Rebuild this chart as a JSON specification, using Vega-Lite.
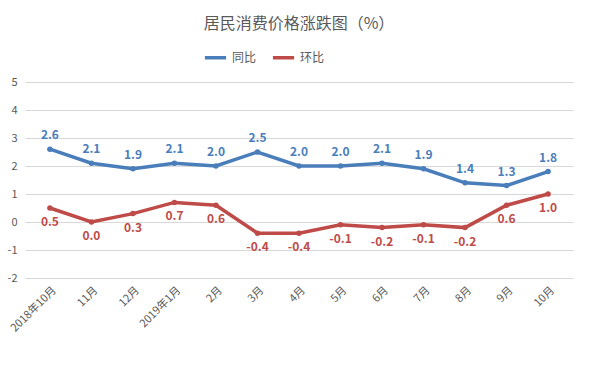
{
  "$schema": "https://vega.github.io/schema/vega-lite/v6.json",
  "width": 548,
  "height": 196,
  "autosize": {"type": "none"},
  "padding": {"left": 25, "top": 82, "right": 31, "bottom": 88},
  "background": "white",
  "title": {
    "text": "居民消费价格涨跌图（%）",
    "font": "Noto Sans CJK SC",
    "fontSize": 16,
    "fontWeight": "normal",
    "color": "#595959",
    "anchor": "middle",
    "offset": 13
  },
  "config": {
    "view": {"stroke": null},
    "font": "Noto Sans CJK SC"
  },
  "data": {
    "values": [
      {"month": "2018年10月", "series": "同比", "value": 2.6},
      {"month": "11月", "series": "同比", "value": 2.1},
      {"month": "12月", "series": "同比", "value": 1.9},
      {"month": "2019年1月", "series": "同比", "value": 2.1},
      {"month": "2月", "series": "同比", "value": 2.0},
      {"month": "3月", "series": "同比", "value": 2.5},
      {"month": "4月", "series": "同比", "value": 2.0},
      {"month": "5月", "series": "同比", "value": 2.0},
      {"month": "6月", "series": "同比", "value": 2.1},
      {"month": "7月", "series": "同比", "value": 1.9},
      {"month": "8月", "series": "同比", "value": 1.4},
      {"month": "9月", "series": "同比", "value": 1.3},
      {"month": "10月", "series": "同比", "value": 1.8},
      {"month": "2018年10月", "series": "环比", "value": 0.5},
      {"month": "11月", "series": "环比", "value": 0.0},
      {"month": "12月", "series": "环比", "value": 0.3},
      {"month": "2019年1月", "series": "环比", "value": 0.7},
      {"month": "2月", "series": "环比", "value": 0.6},
      {"month": "3月", "series": "环比", "value": -0.4},
      {"month": "4月", "series": "环比", "value": -0.4},
      {"month": "5月", "series": "环比", "value": -0.1},
      {"month": "6月", "series": "环比", "value": -0.2},
      {"month": "7月", "series": "环比", "value": -0.1},
      {"month": "8月", "series": "环比", "value": -0.2},
      {"month": "9月", "series": "环比", "value": 0.6},
      {"month": "10月", "series": "环比", "value": 1.0}
    ]
  },
  "encoding": {
    "x": {
      "field": "month",
      "type": "nominal",
      "sort": null,
      "scale": {"type": "point", "padding": 0.6},
      "axis": {
        "title": null,
        "labelAngle": -45,
        "labelFontSize": 11,
        "labelColor": "#595959",
        "domain": false,
        "ticks": false,
        "grid": false,
        "labelPadding": 6
      }
    },
    "y": {
      "field": "value",
      "type": "quantitative",
      "scale": {"domain": [-2, 5], "nice": false},
      "axis": {
        "title": null,
        "values": [-2, -1, 0, 1, 2, 3, 4, 5],
        "labelExpr": "replace(datum.label, '−', '-')",
        "labelFontSize": 11,
        "labelColor": "#595959",
        "domain": false,
        "ticks": false,
        "gridColor": "#D9D9D9",
        "labelPadding": 8
      }
    },
    "color": {
      "field": "series",
      "type": "nominal",
      "scale": {"domain": ["同比", "环比"], "range": ["#4A7EBB", "#BE4B48"]},
      "legend": {
        "title": null,
        "orient": "none",
        "direction": "horizontal",
        "legendX": 178,
        "legendY": -37,
        "symbolType": "stroke",
        "symbolStrokeWidth": 3.5,
        "symbolSize": 450,
        "labelFontSize": 12,
        "labelColor": "#595959",
        "columnPadding": 8
      }
    }
  },
  "layer": [
    {
      "mark": {"type": "line", "strokeWidth": 3.5, "point": {"filled": true, "size": 30}}
    },
    {
      "transform": [{"filter": "datum.series === '同比'"}],
      "mark": {"type": "text", "dy": -14, "fontWeight": "bold", "fontSize": 12,
               "text": {"expr": "replace(format(datum.value, '.1f'), '−', '-')"}}
    },
    {
      "transform": [{"filter": "datum.series === '环比'"}],
      "mark": {"type": "text", "dy": 14, "fontWeight": "bold", "fontSize": 12,
               "text": {"expr": "replace(format(datum.value, '.1f'), '−', '-')"}}
    }
  ]
}
